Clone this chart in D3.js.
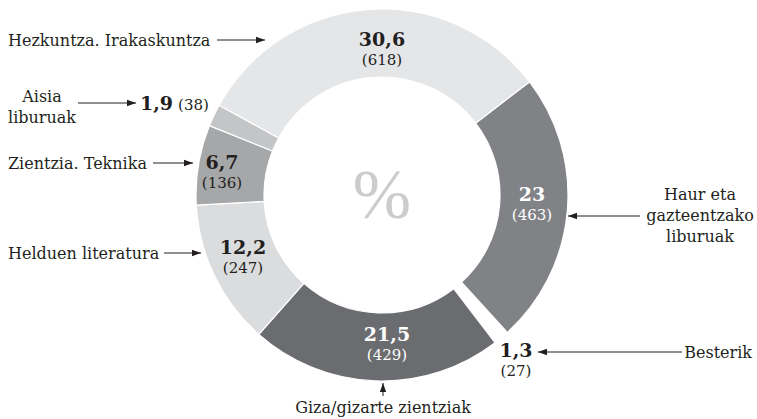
<!DOCTYPE html>
<html><head><meta charset="utf-8">
<script src="https://cdn.jsdelivr.net/npm/d3@7/dist/d3.min.js"></script>
<style>
html,body{margin:0;padding:0;background:#fff;}
svg{display:block;}
text{font-family:"DejaVu Serif",serif;fill:#231f20;}
</style></head>
<body>
<svg id="chart" width="757" height="419"></svg>
<script>
// ---- data ----
const categories = ["Haur eta gazteentzako liburuak","Besterik","Giza/gizarte zientziak","Helduen literatura","Zientzia. Teknika","Aisia liburuak","Hezkuntza. Irakaskuntza"];
const percents = ["23","1,3","21,5","12,2","6,7","1,9","30,6"];
const counts = [463,27,429,247,136,38,618];
const colors = ["#818286","#ffffff","#6b6c70","#dbdcde","#a6a7a9","#c4c5c7","#e5e6e8"];

// ---- layout ----
const W=757,H=419, cx=382, cy=195, rOuter=186, rInner=118;
const startDeg=52.5;
const svg=d3.select("#chart");
const g=svg.append("g").attr("transform",`translate(${cx},${cy})`);

const pie=d3.pie().sort(null).value(d=>d.v)
  .startAngle(startDeg*Math.PI/180).endAngle(startDeg*Math.PI/180+2*Math.PI);
const data=categories.map((c,i)=>({c,v:counts[i],p:percents[i],col:colors[i],i}));
const arcs=pie(data);
const arc=d3.arc().innerRadius(rInner).outerRadius(rOuter);

g.selectAll("path.slice").data(arcs).join("path")
  .attr("class","slice").attr("d",arc)
  .attr("fill",d=>d.data.col)
  .attr("stroke","#fff").attr("stroke-width",d=>d.data.c==="Besterik"?0:1.2);

// center %
g.append("text").attr("x",0).attr("y",23).attr("text-anchor","middle")
  .style("font-size","70px").style("fill","#cbcccd").style("font-family","'Liberation Serif',serif").text("%");

// arrow marker
const defs=svg.append("defs");
defs.append("marker").attr("id","ah").attr("viewBox","0 0 10 10").attr("refX",10).attr("refY",5)
  .attr("markerWidth",9).attr("markerHeight",9).attr("markerUnits","userSpaceOnUse").attr("orient","auto")
  .append("path").attr("d","M0,1.5 L10,5 L0,8.5 Z").attr("fill","#231f20");

const fsLab=16, fsVal=19, fsCnt=15, gap=18.5;
// label layout (screen coords) per slice index
const lay = {
  0:{vx:532,vy:201,light:true, lines:["Haur eta","gazteentzako","liburuak"],lx:700,ly:200,anchor:"middle",arrow:[640,216,568,216]},
  1:{vx:516,vy:357,light:false,lines:["Besterik"],lx:752,ly:358,anchor:"end",arrow:[682,352,538,352]},
  2:{vx:387,vy:341,light:true, lines:["Giza/gizarte zientziak"],lx:383,ly:413,anchor:"middle",arrow:[383,396,383,383]},
  3:{vx:243,vy:254,light:false,lines:["Helduen literatura"],lx:8,ly:259,anchor:"start",arrow:[164,253,201,253]},
  4:{vx:222,vy:169,light:false,lines:["Zientzia. Teknika"],lx:8,ly:169,anchor:"start",arrow:[153,163,193,163]},
  5:{vx:140,vy:110,light:false,lines:["Aisia","liburuak"],lx:42,ly:102,anchor:"middle",arrow:[78,103,136,103],inline:true},
  6:{vx:382,vy:46,light:false,lines:["Hezkuntza. Irakaskuntza"],lx:8,ly:46,anchor:"start",arrow:[217,40,265,40]}
};

const labels=svg.append("g");
arcs.forEach(a=>{
  const L=lay[a.data.i];
  const tc=L.light?"#ffffff":"#231f20";
  if(L.inline){
    const t=labels.append("text").attr("x",L.vx).attr("y",L.vy).attr("text-anchor","start");
    t.append("tspan").style("font-weight","bold").style("font-size",fsVal+"px").text(a.data.p);
    t.append("tspan").attr("dx",5).style("font-size",fsCnt+"px").text(`(${a.data.v})`);
  } else {
    labels.append("text").attr("x",L.vx).attr("y",L.vy).attr("text-anchor","middle")
      .style("font-weight","bold").style("font-size",fsVal+"px").style("fill",tc).text(a.data.p);
    labels.append("text").attr("x",L.vx).attr("y",L.vy+gap).attr("text-anchor","middle")
      .style("font-size",fsCnt+"px").style("fill",tc).text(`(${a.data.v})`);
  }
  const tl=labels.append("text").attr("x",L.lx).attr("y",L.ly).attr("text-anchor",L.anchor).style("font-size",fsLab+"px");
  L.lines.forEach((s,k)=>tl.append("tspan").attr("x",L.lx).attr("dy",k===0?0:21).text(s));
  labels.append("line").attr("x1",L.arrow[0]).attr("y1",L.arrow[1]).attr("x2",L.arrow[2]).attr("y2",L.arrow[3])
    .attr("stroke","#231f20").attr("stroke-width",1).attr("marker-end","url(#ah)");
});
</script>
</body></html>
